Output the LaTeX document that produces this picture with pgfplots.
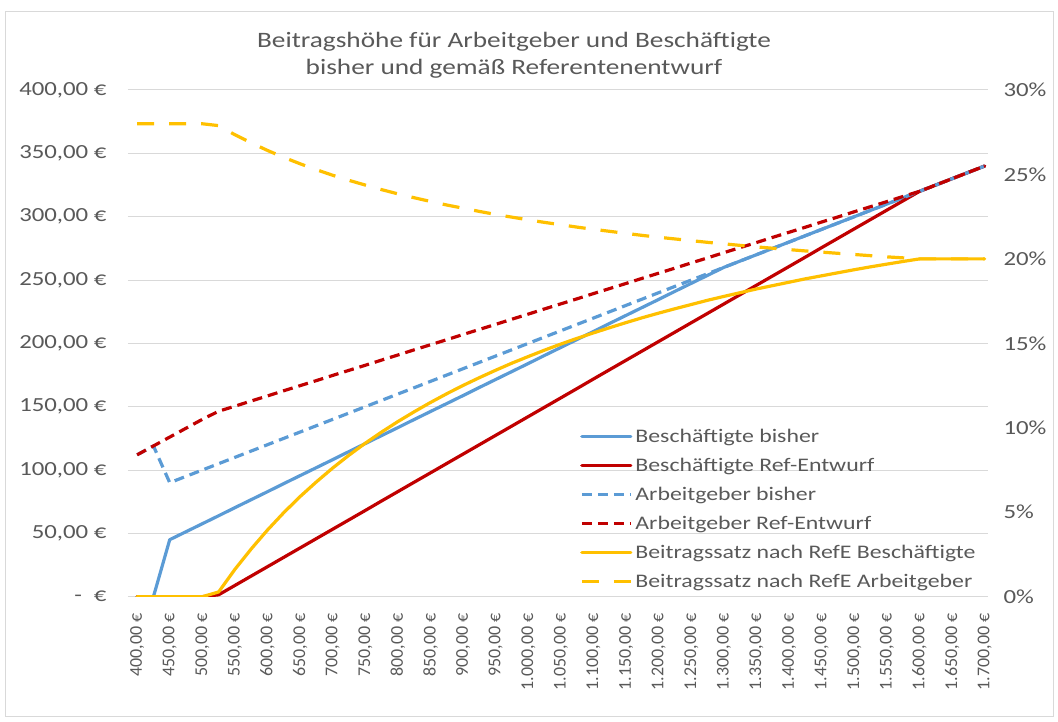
\documentclass[border=0pt]{standalone}
\usepackage{fontspec}
\setmainfont{Carlito}
\newfontfamily\wide{Carlito}[FakeStretch=1.24]
\usepackage{pgfplots}
\pgfplotsset{compat=1.18}
\usepackage{pgfplotstable}
\definecolor{cblue}{HTML}{5B9BD5}
\definecolor{cred}{HTML}{C00000}
\definecolor{cyel}{HTML}{FFC000}
\definecolor{ctext}{HTML}{595959}
\definecolor{cgrid}{HTML}{D9D9D9}

\pgfplotstableread{
x bb br ab ar sb sa
400 0 0 112 112 0 28
425 0 0 119 119 0 28
450 45 0 90 126 0 28
475 51.3 0 95 133 0 28
500 57.6 0 100 140 0 28
525 63.9 1.5 105 146.4 0.28 27.89
550 70.3 8.9 110 150.4 1.62 27.35
575 76.6 16.3 115 154.5 2.83 26.87
600 82.9 23.7 120 158.5 3.95 26.42
625 89.3 31.1 125 162.6 4.98 26.01
650 95.6 38.5 130 166.6 5.93 25.63
675 101.9 45.9 135 170.6 6.80 25.28
700 108.2 53.3 140 174.7 7.62 24.95
725 114.6 60.7 145 178.7 8.38 24.65
750 120.9 68.1 150 182.7 9.09 24.37
775 127.2 75.6 155 186.8 9.75 24.10
800 133.5 83.0 160 190.8 10.37 23.85
825 139.9 90.4 165 194.9 10.95 23.62
850 146.2 97.8 170 198.9 11.50 23.40
875 152.5 105.2 175 202.9 12.02 23.19
900 158.8 112.6 180 207.0 12.51 23.00
925 165.2 120.0 185 211.0 12.97 22.81
950 171.5 127.4 190 215.0 13.41 22.63
975 177.8 134.8 195 219.1 13.83 22.47
1000 184.1 142.2 200 223.1 14.22 22.31
1025 190.5 149.6 205 227.2 14.60 22.16
1050 196.8 157.0 210 231.2 14.96 22.02
1075 203.1 164.4 215 235.2 15.30 21.88
1100 209.4 171.9 220 239.3 15.62 21.75
1125 215.8 179.3 225 243.3 15.93 21.63
1150 222.1 186.7 230 247.3 16.23 21.51
1175 228.4 194.1 235 251.4 16.52 21.39
1200 234.7 201.5 240 255.4 16.79 21.28
1225 241.1 208.9 245 259.4 17.05 21.18
1250 247.4 216.3 250 263.5 17.30 21.08
1275 253.7 223.7 255 267.5 17.55 20.98
1300 260.0 231.1 260 271.6 17.78 20.89
1325 265 238.5 265 275.6 18.00 20.80
1350 270 245.9 270 279.6 18.22 20.71
1375 275 253.3 275 283.7 18.42 20.63
1400 280 260.7 280 287.7 18.62 20.55
1425 285 268.1 285 291.7 18.82 20.47
1450 290 275.6 290 295.8 19.00 20.40
1475 295 283.0 295 299.8 19.18 20.33
1500 300 290.4 300 303.9 19.36 20.26
1525 305 297.8 305 307.9 19.53 20.19
1550 310 305.2 310 311.9 19.69 20.12
1575 315 312.6 315 316.0 19.85 20.06
1600 320 320 320 320 20 20
1625 325 325 325 325 20 20
1650 330 330 330 330 20 20
1675 335 335 335 335 20 20
1700 340 340 340 340 20 20
}\data

\pgfplotsset{
  common/.style={
    at={(128pt,125.3pt)}, anchor=south west,
    width=860pt, height=506.7pt, scale only axis,
    xmin=386, xmax=1705,
    axis line style={draw=none},
    major tick length=0pt,
    tick label style={text=ctext},
    yticklabel style={font=\wide\fontsize{20}{24}\selectfont},
  },
  sol/.style={line width=3.2pt, line join=round, line cap=round},
  dsh/.style={line width=3.2pt, line join=round, line cap=butt, dash pattern=on 10pt off 6pt},
  ldsh/.style={line width=3.2pt, line join=round, line cap=butt, dash pattern=on 17pt off 15pt},
}

\begin{document}
\begin{tikzpicture}
\useasboundingbox (0,0) rectangle (1058pt,722pt);
\draw[cgrid, line width=1pt] (5pt,5pt) rectangle (1053pt,710pt);
\node[text=ctext, font=\wide\fontsize{22}{27}\selectfont, align=center] at (514pt,667pt)
  {Beitragshöhe für Arbeitgeber und Beschäftigte\\bisher und gemäß Referentenentwurf};

\begin{axis}[common,
  ymin=0, ymax=400,
  ytick={0,50,...,400},
  yticklabels={{-\hspace{0.6em}€},{50,00 €},{100,00 €},{150,00 €},{200,00 €},{250,00 €},{300,00 €},{350,00 €},{400,00 €}},
  yticklabel style={anchor=east, xshift=-18pt},
  ymajorgrids, grid style={cgrid, line width=1pt},
  xtick={400,450,...,1700},
  xticklabels={{400,00 €},{450,00 €},{500,00 €},{550,00 €},{600,00 €},{650,00 €},{700,00 €},{750,00 €},{800,00 €},{850,00 €},{900,00 €},{950,00 €},{1.000,00 €},{1.050,00 €},{1.100,00 €},{1.150,00 €},{1.200,00 €},{1.250,00 €},{1.300,00 €},{1.350,00 €},{1.400,00 €},{1.450,00 €},{1.500,00 €},{1.550,00 €},{1.600,00 €},{1.650,00 €},{1.700,00 €}},
  xticklabel style={rotate=90, anchor=east, font=\fontsize{18}{21}\selectfont},
  xticklabel shift=13pt,
]
\addplot[cblue, sol] table[x=x, y=bb]{\data};
\addplot[cred, sol] table[x=x, y=br]{\data};
\addplot[cblue, dsh] table[x=x, y=ab]{\data};
\addplot[cred, dsh] table[x=x, y=ar]{\data};
\end{axis}

\begin{axis}[common,
  ymin=0, ymax=30,
  xtick=\empty,
  ytick={0,5,...,30},
  yticklabels={0\%,5\%,10\%,15\%,20\%,25\%,30\%},
  yticklabel pos=right,
  yticklabel style={anchor=west, xshift=12pt},
  legend style={at={(axis description cs:0.5256,0.337)}, anchor=north west,
    draw=none, fill=none, inner sep=0pt, row sep=8pt, column sep=3pt,
    font=\wide\fontsize{19.2}{23}\selectfont, text=ctext,
    nodes={inner sep=0pt, text height=16pt, text depth=5pt, anchor=west}},
  legend cell align=left,
  legend image code/.code={\draw[#1] (0pt,0pt) -- (49pt,0pt);},
]
\addlegendimage{cblue, sol}
\addlegendentry{Beschäftigte bisher}
\addlegendimage{cred, sol}
\addlegendentry{Beschäftigte Ref-Entwurf}
\addlegendimage{cblue, dsh}
\addlegendentry{Arbeitgeber bisher}
\addlegendimage{cred, dsh}
\addlegendentry{Arbeitgeber Ref-Entwurf}
\addplot[cyel, sol] table[x=x, y=sb]{\data};
\addlegendentry{Beitragssatz nach RefE Beschäftigte}
\addplot[cyel, ldsh] table[x=x, y=sa]{\data};
\addlegendentry{Beitragssatz nach RefE Arbeitgeber}
\end{axis}
\end{tikzpicture}
\end{document}
